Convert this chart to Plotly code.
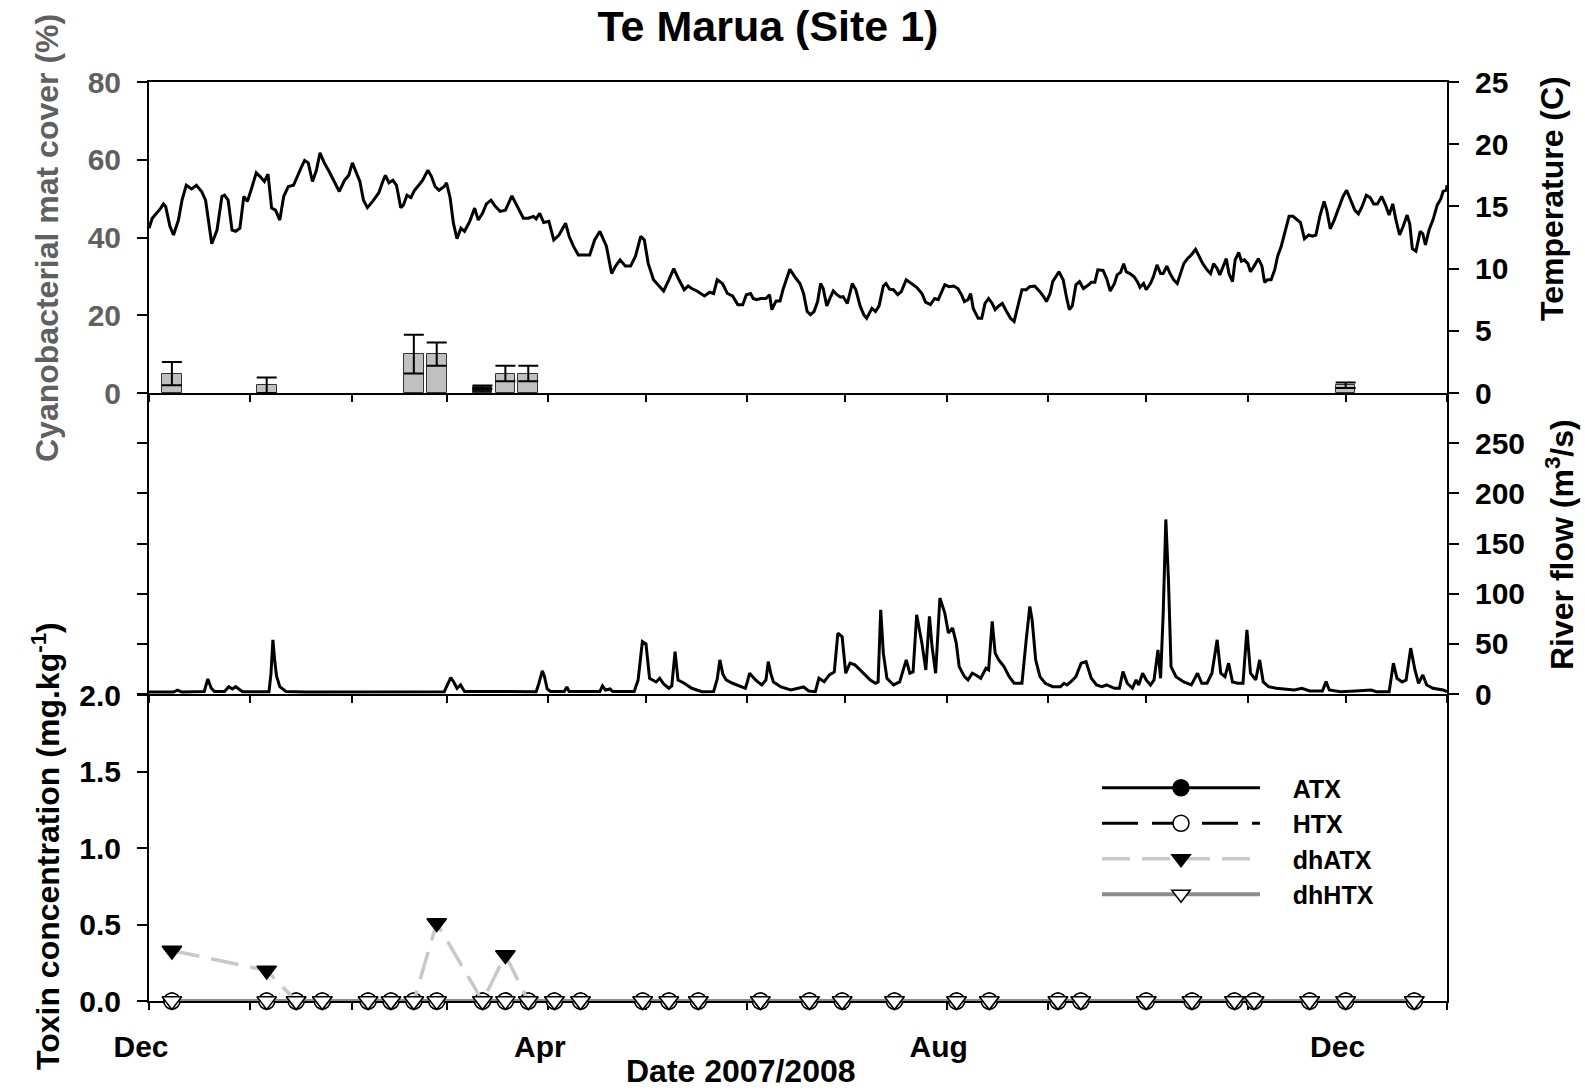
import pandas as pd
import plotly.graph_objects as go

START = pd.Timestamp("2007-12-01")

# ---------------- data ----------------
# water temperature (C): (days since 1 Dec 2007, value)
temperature_readings = [
    (0, 13.25), (1, 14.05), (3.6, 14.86), (4.4, 15.2), (5.1, 15.0), (6.4, 13.4), (7.5, 12.7), (9.0, 13.9),
    (10.1, 15.5), (11.4, 16.7), (13.0, 16.4), (14.5, 16.7), (16.1, 16.2), (17.3, 15.5), (19.2, 12.0), (20.8, 13.1),
    (22.3, 15.8), (23.1, 15.9), (24.2, 15.5), (25.4, 13.1), (26.5, 13.0), (27.8, 13.25), (29.0, 15.8), (30.1, 15.4),
    (31.2, 16.3), (32.8, 17.7), (34.0, 17.4), (35.3, 17.0), (36.4, 17.6), (37.5, 14.86), (38.7, 14.7), (40.0, 13.9),
    (41.2, 15.8), (42.6, 16.6), (44.2, 16.7), (45.3, 17.4), (46.5, 18.1), (47.6, 18.7), (48.7, 18.5), (50.0, 17.0),
    (51.2, 17.9), (52.3, 19.3), (53.6, 18.5), (55.1, 17.8), (56.7, 17.0), (58.2, 16.2), (59.8, 17.1), (61.1, 17.5),
    (62.2, 18.5), (63.2, 17.9), (64.5, 17.0), (65.6, 15.5), (66.8, 14.9), (68.4, 15.4), (70.3, 16.1), (71.5, 17.0),
    (72.3, 17.5), (73.4, 16.9), (74.6, 17.1), (75.7, 16.7), (77.0, 14.9), (77.8, 15.1), (78.9, 15.9), (80.1, 15.7),
    (81.2, 16.3), (82.5, 16.7), (83.7, 17.1), (85.3, 17.9), (86.4, 17.4), (87.5, 16.6), (88.7, 16.3), (90.3, 16.6),
    (91.0, 16.9), (92.1, 15.7), (93.1, 13.65), (94.2, 12.4), (95.4, 13.25), (96.5, 13.0), (98.1, 13.8), (99.6, 14.86),
    (100.7, 13.9), (102.0, 14.45), (103.2, 15.2), (104.6, 15.5), (105.9, 15.0), (107.4, 14.6), (109.0, 14.7), (111.0, 15.85),
    (112.4, 15.1), (114.5, 14.05), (116.0, 14.05), (117.6, 14.2), (118.4, 14.0), (119.5, 14.45), (120.7, 13.7), (122.3, 13.8),
    (123.8, 12.3), (125.4, 12.7), (127.4, 13.65), (128.5, 12.6), (129.8, 11.8), (131.3, 11.1), (133.2, 11.1), (134.8, 11.1),
    (136.3, 12.3), (137.9, 13.0), (139.9, 11.8), (141.5, 9.6), (142.7, 10.2), (144.1, 10.7), (145.7, 10.2), (147.3, 10.2),
    (148.8, 11.0), (150.4, 12.6), (151.5, 12.3), (152.7, 10.4), (154.3, 9.1), (155.9, 8.6), (157.4, 8.2), (159.0, 9.1),
    (160.5, 10.0), (162.1, 9.1), (163.7, 8.3), (164.9, 8.6), (166.0, 8.4), (167.6, 8.2), (169.9, 7.8), (171.5, 8.1),
    (172.7, 8.0), (173.8, 9.1), (175.4, 8.8), (176.9, 8.0), (178.5, 7.8), (180.1, 7.1), (181.6, 7.1), (182.7, 7.9),
    (184.0, 8.0), (184.8, 7.6), (185.8, 7.5), (187.1, 7.6), (188.7, 7.6), (189.8, 7.9), (190.5, 6.7), (191.8, 7.4),
    (193.0, 7.4), (193.9, 8.3), (196.0, 9.95), (197.9, 9.2), (199.1, 8.8), (200.2, 8.0), (201.3, 6.55), (202.3, 6.3),
    (203.4, 6.55), (204.5, 7.35), (205.4, 8.8), (206.2, 8.4), (207.3, 7.0), (208.1, 7.5), (209.3, 8.2), (210.4, 7.9),
    (211.5, 7.7), (212.3, 7.75), (213.6, 7.2), (215.1, 8.8), (216.2, 8.3), (217.5, 7.0), (218.6, 6.3), (219.5, 6.0),
    (221.1, 6.8), (222.2, 6.55), (223.3, 7.0), (224.6, 8.6), (225.4, 8.8), (226.5, 8.35), (227.7, 8.3), (229.0, 7.9),
    (230.1, 8.15), (231.6, 9.1), (233.2, 8.8), (234.8, 8.5), (236.4, 8.0), (237.5, 7.3), (239.0, 7.1), (240.3, 7.6),
    (241.4, 7.5), (243.4, 8.7), (244.7, 8.55), (246.1, 8.6), (247.4, 8.4), (248.5, 7.9), (249.4, 7.35), (250.5, 7.5),
    (251.3, 8.0), (252.1, 6.8), (253.6, 6.0), (254.7, 6.0), (255.7, 7.2), (256.8, 7.6), (257.9, 7.2), (258.8, 6.7),
    (259.9, 7.0), (261.0, 7.2), (262.3, 6.55), (263.5, 6.0), (264.6, 5.75), (265.7, 7.0), (267.0, 8.3), (268.3, 8.3),
    (269.4, 8.55), (270.9, 8.6), (272.5, 8.15), (273.6, 7.75), (274.5, 7.35), (275.6, 8.0), (276.4, 8.95), (278.3, 9.75),
    (279.6, 9.1), (280.7, 7.6), (281.5, 6.7), (282.4, 7.0), (283.5, 8.7), (284.6, 8.95), (285.8, 8.4), (287.4, 8.7),
    (288.2, 8.9), (289.3, 8.9), (290.2, 9.9), (291.8, 9.85), (292.9, 9.2), (294.0, 8.2), (295.3, 8.8), (296.1, 9.5),
    (297.2, 9.7), (298.1, 10.4), (298.9, 9.75), (300.0, 9.6), (301.3, 9.35), (302.4, 8.9), (303.1, 8.5), (304.2, 8.8),
    (305.0, 8.3), (306.3, 8.8), (307.2, 9.35), (308.3, 10.3), (309.4, 9.6), (310.2, 9.6), (311.3, 10.2), (312.3, 9.6),
    (313.4, 9.1), (314.5, 8.8), (315.4, 9.5), (316.5, 10.4), (317.6, 10.8), (318.8, 11.1), (320.1, 11.55), (321.2, 11.0),
    (322.3, 10.4), (323.6, 9.9), (324.7, 9.6), (325.6, 10.4), (326.7, 10.0), (327.5, 9.5), (328.6, 10.3), (329.5, 10.8),
    (330.3, 9.6), (331.4, 8.95), (332.2, 10.7), (333.3, 11.3), (334.1, 10.6), (335.0, 10.7), (336.1, 10.4), (336.9, 9.75),
    (338.0, 10.2), (339.3, 10.8), (340.4, 10.2), (341.2, 8.9), (342.1, 9.1), (343.2, 9.1), (344.3, 9.9), (345.2, 11.0),
    (346.3, 11.8), (347.4, 13.0), (348.7, 14.2), (349.9, 14.2), (351.1, 13.9), (352.2, 13.7), (353.4, 12.4), (354.7, 12.7),
    (355.8, 12.6), (356.9, 12.7), (358.1, 14.2), (359.4, 15.4), (360.2, 14.7), (361.3, 13.2), (362.5, 13.9), (363.6, 14.7),
    (365.2, 15.8), (366.3, 16.3), (367.6, 15.4), (368.8, 14.7), (369.9, 14.4), (371.0, 14.97), (372.3, 15.9), (373.5, 15.7),
    (374.6, 15.2), (375.7, 15.2), (377.0, 15.8), (378.2, 15.1), (379.3, 14.3), (380.4, 15.2), (381.4, 13.9), (382.5, 12.7),
    (383.6, 13.4), (384.8, 14.3), (385.6, 13.6), (386.4, 11.6), (387.5, 11.4), (388.8, 13.0), (389.6, 12.8), (390.4, 11.9),
    (391.5, 13.1), (392.7, 13.9), (394.0, 15.1), (395.1, 15.6), (395.8, 16.2), (396.8, 16.3), (397.0, 16.7),
]

# river flow (m3/s): (days since 1 Dec 2007, value)
flow_readings = [
    (0, 2), (7.5, 2), (8.7, 3.8), (10.0, 2), (16.9, 2.5), (18.0, 15), (19.0, 6), (20.0, 2.5), (23.1, 2.5), (24.4, 7.3),
    (25.5, 5), (26.5, 7.3), (28.6, 2.3), (36.7, 2.3), (37.3, 20), (37.9, 54), (38.4, 35), (39.0, 18), (40.0, 7.3),
    (41.9, 2.5), (48.1, 2), (63.7, 2), (73.1, 2.3), (76.2, 2.7), (79.3, 2.3), (90.3, 2.3), (91.4, 10), (92.3, 16.3),
    (93.2, 12), (94.2, 5.7), (95.3, 9), (96.5, 2.5), (118.4, 2.3), (119.2, 10), (120.3, 23), (120.9, 18), (121.8, 5),
    (122.8, 2.5), (127.0, 2.5), (127.8, 7), (128.5, 2.5), (137.9, 2.5), (138.7, 8), (139.6, 4), (141.0, 5), (141.8, 2.5),
    (148.4, 2.5), (149.6, 14), (150.9, 52.3), (152.0, 50), (153.1, 15.7), (155.1, 12), (156.2, 15.7), (157.4, 10),
    (159.0, 5.7), (159.9, 8), (160.9, 42.3), (161.8, 14), (163.7, 10.7), (166.0, 5.7), (169.1, 2.3), (172.7, 2.5),
    (173.8, 15), (174.6, 34), (175.5, 20), (176.5, 14), (178.5, 10.7), (180.8, 7.3), (182.4, 5.7), (183.0, 12),
    (183.7, 20.7), (185.5, 14), (187.4, 9), (188.7, 14), (189.4, 32.3), (190.2, 20), (191.0, 12), (193.3, 7),
    (196.3, 4), (200.2, 7), (201.8, 3), (203.8, 2.3), (204.9, 15.7), (206.5, 12.3), (208.1, 19), (209.6, 22),
    (210.7, 60.7), (212.0, 57), (213.1, 20.7), (214.4, 30.7), (215.9, 29), (217.5, 24), (219.1, 19), (220.6, 14),
    (222.2, 10.7), (223.0, 12), (223.8, 84), (224.6, 40.7), (225.7, 15.7), (227.7, 9), (229.6, 12), (230.5, 22),
    (231.6, 34), (232.7, 20.7), (233.7, 22), (234.8, 79), (236.4, 50.7), (237.6, 24), (238.7, 77.3), (239.5, 47.3),
    (240.6, 20.7), (241.9, 95.7), (243.4, 80.7), (244.5, 60.7), (245.8, 65.7), (246.9, 50.7), (247.8, 27.3),
    (249.4, 17.3), (250.5, 14), (251.8, 20.7), (252.9, 19), (254.4, 15.7), (256.0, 25.7), (256.8, 24), (257.9, 72.3),
    (258.8, 40.7), (259.9, 34), (261.5, 27.3), (263.1, 17.3), (264.6, 10.7), (267.0, 10.7), (268.3, 54), (269.4, 87.3),
    (270.1, 74), (271.2, 34), (272.5, 17.3), (274.1, 10.7), (276.4, 7.3), (278.8, 7.3), (279.9, 10.7), (280.8, 9),
    (281.9, 12), (283.5, 17.3), (285.1, 30.7), (286.6, 32.3), (288.2, 15.7), (289.8, 9), (291.4, 7.3), (292.9, 9),
    (295.3, 5.7), (296.8, 5.7), (297.9, 22.3), (299.2, 10.7), (300.8, 5.7), (301.9, 14), (302.7, 9), (303.9, 20.7),
    (305.0, 14), (306.3, 9), (307.4, 14), (308.6, 44), (309.4, 15.7), (310.2, 80.7), (311.0, 174), (311.8, 114),
    (312.6, 27.3), (314.1, 17.3), (316.5, 12), (318.8, 9), (320.7, 20.7), (322.0, 10.7), (323.6, 10.7), (325.1, 20.7),
    (326.7, 54), (327.8, 20.7), (329.1, 17.3), (330.2, 30.7), (331.4, 12), (333.0, 10.7), (334.6, 10.7), (335.8, 64),
    (336.9, 20.7), (338.5, 14), (339.7, 34), (340.8, 12), (342.4, 7.3), (344.8, 5.7), (347.9, 4.7), (350.3, 4),
    (352.6, 5.7), (355.0, 3), (358.9, 3), (360.0, 12.3), (361.0, 4), (364.4, 2.3), (369.1, 3), (373.8, 4), (375.4, 2.3),
    (379.3, 2.3), (380.6, 30.7), (381.7, 15.7), (383.3, 12), (384.5, 14), (385.9, 45.7), (387.2, 24), (388.3, 10.7),
    (389.6, 19), (390.8, 9), (392.7, 5.7), (395.8, 4), (397.0, 2.3),
]

# cyanobacterial mat cover (%)
cover_dates = ["2007-12-08", "2008-01-06", "2008-02-20", "2008-02-27", "2008-03-12",
               "2008-03-19", "2008-03-26", "2008-12-01"]
cover_pct = [5, 2, 10, 10, 1.5, 5, 5, 2]
cover_err = [3, 2, 5, 3, 0.4, 2, 2, 0.7]

# toxin sampling (mg/kg)
sample_dates = ["2007-12-08", "2008-01-06", "2008-01-15", "2008-01-23", "2008-02-06", "2008-02-13",
                "2008-02-20", "2008-02-27", "2008-03-12", "2008-03-19", "2008-03-26", "2008-04-03",
                "2008-04-11", "2008-04-30", "2008-05-08", "2008-05-17", "2008-06-05", "2008-06-20",
                "2008-06-30", "2008-07-16", "2008-08-04", "2008-08-14", "2008-09-04", "2008-09-11",
                "2008-10-01", "2008-10-15", "2008-10-28", "2008-11-03", "2008-11-20", "2008-12-01",
                "2008-12-22"]
atx = [0, 0, 0, 0, 0, 0, 0, 0, 0, 0, 0, 0, 0, 0, 0, 0, 0, 0, 0, 0, 0, 0, 0, 0, 0, 0, 0, 0, 0, 0, 0]
htx = [0, 0, 0, 0, 0, 0, 0, 0, 0, 0, 0, 0, 0, 0, 0, 0, 0, 0, 0, 0, 0, 0, 0, 0, 0, 0, 0, 0, 0, 0, 0]
dhatx = [0.33, 0.20, 0, 0, 0, 0, 0, 0.51, 0, 0.30, 0, 0, 0, 0, 0, 0, 0, 0, 0, 0, 0, 0, 0, 0, 0, 0,
         0, 0, 0, 0, 0]
dhhtx = [0, 0, 0, 0, 0, 0, 0, 0, 0, 0, 0, 0, 0, 0, 0, 0, 0, 0, 0, 0, 0, 0, 0, 0, 0, 0, 0, 0, 0, 0, 0]

month_ticks = pd.date_range("2007-12-01", "2009-01-01", freq="MS")
month_labels = ["Dec", "", "", "", "Apr", "", "", "", "Aug", "", "", "", "Dec", ""]
flow_ticks = [0, 50, 100, 150, 200, 250]

# ---------------- figure ----------------
temp_x = [START + pd.Timedelta(days=d) for d, _ in temperature_readings]
temp_y = [v for _, v in temperature_readings]
flow_x = [START + pd.Timedelta(days=d) for d, _ in flow_readings]
flow_y = [v for _, v in flow_readings]

FONT = "Liberation Sans, Arial, sans-serif"
GREY_TXT = "#606060"
W, H = 1585, 1091
L, R, T, B = 149, 1447, 82, 1001
ph = B - T


def py(y):
    return (B - y) / ph


def px(x):
    return (x - L) / (R - L)


fig = go.Figure()

# top panel: mat cover bars + temperature
fig.add_trace(go.Bar(
    x=pd.to_datetime(cover_dates), y=cover_pct,
    error_y=dict(type="data", array=cover_err, color="black", thickness=2, width=10),
    marker=dict(color=["#c0c0c0", "#c0c0c0", "#c0c0c0", "#c0c0c0", "#111111", "#c0c0c0", "#c0c0c0", "#c0c0c0"],
                line=dict(color="#333333", width=1)),
    width=6 * 86400000, xaxis="x", yaxis="y", showlegend=False))
fig.add_trace(go.Scatter(x=temp_x, y=temp_y, mode="lines", line=dict(color="black", width=3),
                         xaxis="x", yaxis="y2", showlegend=False))

# middle panel: river flow
fig.add_trace(go.Scatter(x=flow_x, y=flow_y, mode="lines", line=dict(color="black", width=3),
                         xaxis="x2", yaxis="y3", showlegend=False))

# bottom panel: toxins
sd = pd.to_datetime(sample_dates)
NB = "\u00a0" * 4
fig.add_trace(go.Scatter(x=sd, y=atx, name=NB + "ATX", mode="lines+markers",
                         line=dict(color="black", width=3),
                         marker=dict(symbol="circle", size=16, color="black", line=dict(color="black", width=1.5)),
                         xaxis="x3", yaxis="y5", cliponaxis=False))
fig.add_trace(go.Scatter(x=sd, y=htx, name=NB + "HTX", mode="lines+markers",
                         line=dict(color="black", width=3, dash="36px,14px"),
                         marker=dict(symbol="circle", size=16, color="white", line=dict(color="black", width=1.5)),
                         xaxis="x3", yaxis="y5", cliponaxis=False))
fig.add_trace(go.Scatter(x=sd, y=dhatx, name=NB + "dhATX", mode="lines+markers",
                         line=dict(color="#c8c8c8", width=3.5, dash="28px,12px"),
                         marker=dict(symbol="triangle-down", size=17, color="black", line=dict(color="black", width=1.5)),
                         xaxis="x3", yaxis="y5", cliponaxis=False))
fig.add_trace(go.Scatter(x=sd, y=dhhtx, name=NB + "dhHTX", mode="lines+markers",
                         line=dict(color="#8c8c8c", width=4),
                         marker=dict(symbol="triangle-down", size=17, color="white", line=dict(color="black", width=1.5)),
                         xaxis="x3", yaxis="y5", cliponaxis=False))

xr = ["2007-12-01", "2009-01-01"]
tick_font = dict(family=FONT, size=30, color="black", weight="bold")
xcommon = dict(range=xr, type="date", tickmode="array", tickvals=month_ticks, ticks="outside",
               ticklen=7, tickwidth=1.5, tickcolor="black", showline=True, linecolor="black",
               linewidth=2, showgrid=False, zeroline=False)
ycommon = dict(ticks="outside", ticklen=10, tickwidth=1.5, tickcolor="black", showline=True,
               linecolor="black", linewidth=2, showgrid=False, zeroline=False, ticklabelstandoff=10)

top_dom = [py(393), 1]
mid_dom = [py(694), py(393)]
bot_dom = [0, py(695)]

fig.update_layout(
    width=W, height=H, autosize=False,
    margin=dict(l=L, r=W - R, t=T, b=H - B),
    paper_bgcolor="white", plot_bgcolor="white",
    font=dict(family=FONT, color="black"),
    title=dict(text="Te Marua (Site 1)", x=768 / W, xanchor="center", xref="container",
               y=1 - 26 / H, yanchor="middle", yref="container",
               font=dict(family=FONT, size=43, color="black", weight="bold")),
    bargap=0,
    xaxis=dict(xcommon, anchor="y", showticklabels=False, mirror=True),
    xaxis2=dict(xcommon, anchor="y3", showticklabels=False),
    xaxis3=dict(xcommon, anchor="y5", ticktext=month_labels, tickfont=tick_font,
                ticklabelstandoff=11, ticklabelshift=-8, layer="below traces"),
    yaxis=dict(ycommon, domain=top_dom, anchor="x", range=[0, 80], dtick=20,
               tickfont=dict(family=FONT, size=30, color=GREY_TXT, weight="bold")),
    yaxis2=dict(ycommon, overlaying="y", side="right", anchor="x", range=[0, 25], dtick=5,
                tickfont=tick_font),
    yaxis3=dict(ycommon, domain=mid_dom, anchor="x2", side="right", mirror="ticks", range=[0, 300],
                tickvals=flow_ticks, tickfont=tick_font),
    yaxis5=dict(ycommon, domain=bot_dom, anchor="x3", range=[0, 2.0], dtick=0.5, tickformat=".1f",
                mirror=True, tickfont=tick_font),
    legend=dict(x=px(1097), y=py(765), xanchor="left", yanchor="top", xref="paper", yref="paper",
                bgcolor="rgba(0,0,0,0)", borderwidth=0, itemwidth=158, tracegroupgap=0,
                font=dict(family=FONT, size=25, color="black", weight="bold")),
)

ann_font = dict(family=FONT, size=32, weight="bold")
annotations = [
    dict(text="Cyanobacterial mat cover (%)", x=47, y=238, font=dict(ann_font, color=GREY_TXT)),
    dict(text="Temperature (C)", x=1552, y=198, font=dict(ann_font, color="black")),
    dict(text="River flow (m<sup>3</sup>/s)", x=1560, y=545, font=dict(ann_font, color="black")),
    dict(text="Toxin concentration (mg.kg<sup>-1</sup>)", x=46, y=846, font=dict(ann_font, color="black")),
]
for a in annotations:
    fig.add_annotation(text=a["text"], xref="paper", yref="paper", x=px(a["x"]), y=py(a["y"]),
                       xanchor="center", yanchor="middle", textangle=-90, showarrow=False, font=a["font"])
fig.add_annotation(text="Date 2007/2008", xref="paper", yref="paper", x=px(741), y=py(1071),
                   xanchor="center", yanchor="middle", showarrow=False,
                   font=dict(family=FONT, size=32, color="black", weight="bold"))

fig.write_html("out.html")
